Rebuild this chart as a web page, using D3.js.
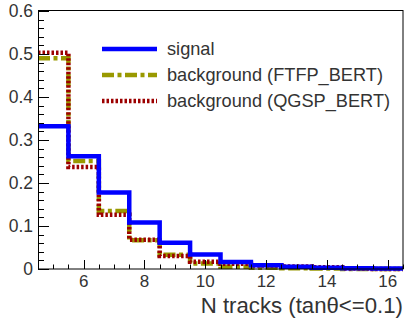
<!DOCTYPE html>
<html>
<head>
<meta charset="utf-8">
<script src="https://cdn.jsdelivr.net/npm/d3@7"></script>
<style>
  html, body { margin: 0; padding: 0; background: #fff; }
  svg { display: block; font-family: "Liberation Sans", Arial, Helvetica, sans-serif; }
</style>
</head>
<body>
<svg id="chart" width="405" height="320"></svg>
<script>
// Bin centres (one track per bin) and normalised fractions per bin
const binCenters = [5, 6, 7, 8, 9, 10, 11, 12, 13, 14, 15, 16];
const signal     = [0.332, 0.262, 0.178, 0.108, 0.061, 0.034, 0.016, 0.009, 0.005, 0.003, 0.002, 0.001];
const bkgFTFP    = [0.490, 0.251, 0.135, 0.067, 0.033, 0.013, 0.005, 0.003, 0.002, 0.001, 0.000, 0.000];
const bkgQGSP    = [0.503, 0.237, 0.126, 0.068, 0.030, 0.017, 0.012, 0.008, 0.006, 0.004, 0.001, 0.000];

const xTickLabels = [6, 8, 10, 12, 14, 16];
const yTickLabels = [0, 0.1, 0.2, 0.3, 0.4, 0.5, 0.6];

const seriesNames = ["signal", "background (FTFP_BERT)", "background (QGSP_BERT)"];

const svg = d3.select("#chart");
const plotL = 38, plotR = 403, plotT = 11, plotB = 269;

const x = d3.scaleLinear().domain([4.5, 16.5]).range([plotL, plotR]);
const y = d3.scaleLinear().domain([0, 0.6]).range([plotB, plotT]);

const textColor = "#333";

// Histogram outline: step through bin edges
function histPoints(vals) {
  const pts = vals.map((v, i) => [binCenters[i] - 0.5, v]);
  pts.push([binCenters[binCenters.length - 1] + 0.5, vals[vals.length - 1]]);
  return pts;
}
const stepLine = d3.line()
  .x(d => x(d[0]))
  .y(d => y(d[1]))
  .curve(d3.curveStepAfter);

const styles = [
  { data: signal,  color: "#0000ff", width: 4.5, dash: null },
  { data: bkgFTFP, color: "#999900", width: 4.5, dash: "12,3.5,4,3.5" },
  { data: bkgQGSP, color: "#9c0000", width: 4.5, dash: "2.5,2" }
];

// Draw backgrounds first, signal on top
[styles[1], styles[2], styles[0]].forEach(s => {
  svg.append("path")
    .attr("d", stepLine(histPoints(s.data)))
    .attr("fill", "none")
    .attr("stroke", s.color)
    .attr("stroke-width", s.width)
    .attr("stroke-dasharray", s.dash)
    .attr("stroke-linejoin", "miter");
});

// Frame
svg.append("rect")
  .attr("x", plotL + 0.5).attr("y", plotT - 0.5)
  .attr("width", plotR - plotL - 0.5).attr("height", plotB - plotT + 0.5)
  .attr("fill", "none").attr("stroke", "#000").attr("stroke-width", 1);

// Y axis ticks
const yMinor = d3.range(0, 0.6001, 0.02);
svg.append("g").selectAll("line").data(yMinor).join("line")
  .attr("x1", plotL).attr("x2", (d, i) => plotL + (i % 5 === 0 ? 11 : 6))
  .attr("y1", d => Math.round(y(d)) + 0.5).attr("y2", d => Math.round(y(d)) + 0.5)
  .attr("stroke", "#000").attr("stroke-width", 1);

svg.append("g").selectAll("text").data(yTickLabels).join("text")
  .attr("x", 33).attr("y", d => y(d) + 6)
  .attr("text-anchor", "end")
  .attr("font-size", 17.5)
  .attr("fill", textColor)
  .text(d => d === 0 ? "0" : d3.format(".1f")(d));

// X axis ticks
const xMinor = d3.range(4.5, 16.5001, 0.5);
svg.append("g").selectAll("line").data(xMinor).join("line")
  .attr("x1", d => Math.round(x(d)) + 0.5).attr("x2", d => Math.round(x(d)) + 0.5)
  .attr("y1", plotB).attr("y2", d => plotB - (d % 2 === 0 ? 9 : 4.5))
  .attr("stroke", "#000").attr("stroke-width", 1);

svg.append("g").selectAll("text").data(xTickLabels).join("text")
  .attr("x", d => x(d)).attr("y", 287)
  .attr("text-anchor", "middle")
  .attr("font-size", 17)
  .attr("fill", textColor)
  .text(d => d);

// Axis title
svg.append("text")
  .attr("x", plotR).attr("y", 313)
  .attr("text-anchor", "end")
  .attr("font-size", 22.2)
  .attr("fill", textColor)
  .text("N tracks (tanθ<=0.1)");

// Legend
const legendY = [49, 75, 101];
styles.forEach((s, i) => {
  svg.append("line")
    .attr("x1", 102).attr("x2", 157)
    .attr("y1", legendY[i]).attr("y2", legendY[i])
    .attr("stroke", s.color).attr("stroke-width", s.width)
    .attr("stroke-dasharray", s.dash);
  svg.append("text")
    .attr("x", 167).attr("y", legendY[i] + 6)
    .attr("font-size", 18.2)
    .attr("fill", textColor)
    .text(seriesNames[i]);
});
</script>
</body>
</html>
